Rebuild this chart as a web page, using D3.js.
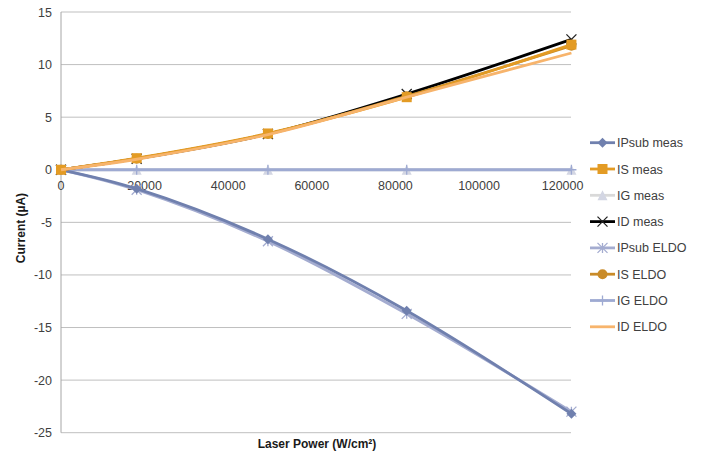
<!DOCTYPE html>
<html><head><meta charset="utf-8">
<script src="https://cdn.jsdelivr.net/npm/d3@7"></script>
<style>body{margin:0;background:#fff;}svg{display:block;font-family:"Liberation Sans",Arial,sans-serif;}</style>
</head><body><svg id="c" width="704" height="458"></svg>
<script>
const power = [0, 18100, 49500, 82700, 122100];
const IPsubMeas = [0, -1.8, -6.6, -13.4, -23.2];
const ISMeas = [0, 1.1, 3.45, 6.9, 11.9];
const IGMeas = [0, 0, 0, 0, 0];
const IDMeas = [0, 1.05, 3.4, 7.2, 12.4];
const IPsubELDO = [0, -1.9, -6.8, -13.7, -23.0];
const ISELDO = [0, 1.05, 3.4, 7.0, 11.8];
const IGELDO = [0, 0, 0, 0, 0];
const IDELDO = [0, 1.0, 3.35, 6.9, 11.1];
const xTicks = [0, 20000, 40000, 60000, 80000, 100000, 120000];
const yTicks = [15, 10, 5, 0, -5, -10, -15, -20, -25];

const series = [
  {name:"IPsub meas", vals:IPsubMeas, color:"#7080AE", w:2.8, sym:"diamond", mcol:"#7080AE"},
  {name:"IS meas", vals:ISMeas, color:"#E39B24", w:2.8, sym:"square", mcol:"#E39B24"},
  {name:"IG meas", vals:IGMeas, color:"#D9D9D9", w:2.8, sym:"triangle", mcol:"#D3D6E3"},
  {name:"ID meas", vals:IDMeas, color:"#000000", w:2.8, sym:"x", mcol:"#222"},
  {name:"IPsub ELDO", vals:IPsubELDO, color:"#A4ACD0", w:2.8, sym:"star", mcol:"#A4ACD0"},
  {name:"IS ELDO", vals:ISELDO, color:"#C98B28", w:2.8, sym:"circle", mcol:"#C98B28"},
  {name:"IG ELDO", vals:IGELDO, color:"#9EAAD2", w:2.8, sym:"plus", mcol:"#9EAAD2"},
  {name:"ID ELDO", vals:IDELDO, color:"#F7B46C", w:2.8, sym:null, mcol:null}
];
// drawing order (back to front)
const order = ["IG meas","IG ELDO","IPsub ELDO","IPsub meas","ID meas","IS ELDO","IS meas","ID ELDO"];

const svg = d3.select("#c");
const x = d3.scaleLinear().domain([0, 122000]).range([61, 571]);
const y = d3.scaleLinear().domain([-25, 15]).range([432.7, 12]);

svg.append("g").selectAll("line").data(yTicks).join("line")
  .attr("x1", x(0)).attr("x2", x(122000))
  .attr("y1", d=>y(d)).attr("y2", d=>y(d))
  .attr("stroke", "#BFBFBF").attr("stroke-width", 1);
svg.append("line").attr("x1", x(0)).attr("x2", x(0)).attr("y1", y(15)).attr("y2", y(-25))
  .attr("stroke", "#A6A6A6").attr("stroke-width", 1);

svg.append("g").selectAll("text").data(yTicks).join("text")
  .attr("x", 52).attr("y", d=>y(d)+4.5).attr("text-anchor","end")
  .attr("font-size", 12.5).attr("fill","#404040").text(d=>d);
svg.append("g").selectAll("text").data(xTicks).join("text")
  .attr("x", d=>x(d)).attr("y", y(0)+20).attr("text-anchor","middle")
  .attr("font-size", 12.5).attr("fill","#404040").text(d=>d);

svg.append("text").attr("x", 317).attr("y", 448).attr("text-anchor","middle")
  .attr("font-size", 12).attr("font-weight","bold").attr("fill","#1a1a1a").text("Laser Power (W/cm²)");
svg.append("text").attr("transform","translate(25,228) rotate(-90)").attr("text-anchor","middle")
  .attr("font-size", 12).attr("font-weight","bold").attr("fill","#1a1a1a").text("Current (µA)");

const line = d3.line().x((d,i)=>x(power[i])).y(d=>y(d)).curve(d3.curveCatmullRom.alpha(0.5));

function marker(g, sym, cx, cy, col) {
  const s = 5;
  if (sym==="diamond") g.append("path").attr("d",`M${cx},${cy-s}L${cx+s},${cy}L${cx},${cy+s}L${cx-s},${cy}Z`).attr("fill",col);
  else if (sym==="square") g.append("rect").attr("x",cx-s).attr("y",cy-s).attr("width",2*s).attr("height",2*s).attr("fill",col);
  else if (sym==="triangle") g.append("path").attr("d",`M${cx},${cy-s}L${cx+s},${cy+s}L${cx-s},${cy+s}Z`).attr("fill",col);
  else if (sym==="circle") g.append("circle").attr("cx",cx).attr("cy",cy).attr("r",s).attr("fill",col);
  else if (sym==="x") g.append("path").attr("d",`M${cx-s},${cy-s}L${cx+s},${cy+s}M${cx-s},${cy+s}L${cx+s},${cy-s}`).attr("stroke",col).attr("stroke-width",1.3);
  else if (sym==="plus") g.append("path").attr("d",`M${cx-s},${cy}L${cx+s},${cy}M${cx},${cy-s}L${cx},${cy+s}`).attr("stroke",col).attr("stroke-width",1.3);
  else if (sym==="star") g.append("path").attr("d",`M${cx-s},${cy-s}L${cx+s},${cy+s}M${cx-s},${cy+s}L${cx+s},${cy-s}M${cx},${cy-s}L${cx},${cy+s}`).attr("stroke",col).attr("stroke-width",1.3);
}

const plot = svg.append("g");
order.forEach(n=>{
  const s = series.find(d=>d.name===n);
  const g = plot.append("g");
  g.append("path").attr("d", line(s.vals)).attr("fill","none").attr("stroke", s.color).attr("stroke-width", s.w).attr("stroke-linejoin","round");
  if (s.sym) s.vals.forEach((v,i)=>marker(g, s.sym, x(power[i]), y(v), s.mcol));
});

const ly0 = 142.7, lstep = 26.3;
const leg = svg.append("g");
series.forEach((s,i)=>{
  const yy = ly0 + i*lstep;
  leg.append("line").attr("x1",590).attr("x2",615).attr("y1",yy).attr("y2",yy).attr("stroke",s.color).attr("stroke-width",2.8);
  if (s.sym) marker(leg, s.sym, 602.5, yy, s.mcol);
  leg.append("text").attr("x",617).attr("y",yy+4.5).attr("font-size",12.5).attr("fill","#404040").text(s.name);
});
</script></body></html>
